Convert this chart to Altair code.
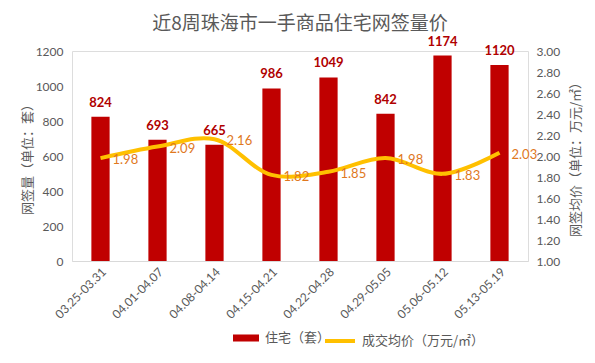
import altair as alt
import pandas as pd

weeks = ["03.25-03.31", "04.01-04.07", "04.08-04.14", "04.15-04.21",
         "04.22-04.28", "04.29-05.05", "05.06-05.12", "05.13-05.19"]
units = [824, 693, 665, 986, 1049, 842, 1174, 1120]
price = [1.98, 2.09, 2.16, 1.82, 1.85, 1.98, 1.83, 2.03]

bar_name = "住宅（套）"
line_name = "成交均价（万元/㎡）"

df = pd.DataFrame({
    "week": weeks,
    "units": units,
    "price": price,
    "s1": [bar_name] * len(weeks),
    "s2": [line_name] * len(weeks),
})

FONT = "Lato, Noto Sans CJK SC, sans-serif"
CJK = "Noto Sans CJK SC, sans-serif"
GRAY = "#595959"

x = alt.X("week:N", sort=weeks, title=None,
          scale=alt.Scale(paddingInner=0.68, paddingOuter=0.34),
          axis=alt.Axis(labelAngle=-45, labelFont=FONT, labelFontSize=12,
                        labelColor=GRAY, ticks=False, domainColor="#D9D9D9",
                        labelPadding=5))

y1 = alt.Y("units:Q", scale=alt.Scale(domain=[0, 1200]),
           axis=alt.Axis(values=[0, 200, 400, 600, 800, 1000, 1200], format="d", grid=False,
                         domain=False, ticks=False, labelFont=FONT, labelFontSize=12,
                         labelColor=GRAY, labelPadding=9,
                         title="网签量（单位：套）", titleFont=CJK, titleFontSize=13,
                         titleColor=GRAY, titleFontWeight="normal", titlePadding=1))

y2 = alt.Y("price:Q", scale=alt.Scale(domain=[1, 3]),
           axis=alt.Axis(orient="right",
                         values=[1.0, 1.2, 1.4, 1.6, 1.8, 2.0, 2.2, 2.4, 2.6, 2.8, 3.0],
                         format=".2f", grid=False, domain=False, ticks=False,
                         labelFont=FONT, labelFontSize=12, labelColor=GRAY, labelPadding=8,
                         title="网签均价（单位：万元/㎡）", titleFont=CJK, titleFontSize=13,
                         titleColor=GRAY, titleFontWeight="normal", titleAngle=270,
                         titleBaseline="top", titlePadding=10))

base = alt.Chart(df)

bars = base.mark_bar().encode(
    x=x, y=y1,
    color=alt.Color("s1:N", scale=alt.Scale(domain=[bar_name], range=["#C00000"]),
                    legend=alt.Legend(orient="none", legendX=160, legendY=273, title=None,
                                      symbolType="M-1,-0.27H1V0.27H-1Z", symbolSize=676,
                                      symbolOpacity=1, labelFont=CJK, labelFontSize=13,
                                      labelColor=GRAY, padding=0, labelOffset=5)))
bar_text = base.mark_text(dy=-14, font=FONT, fontSize=13, fontWeight="bold",
                          color="#B00000").encode(x=x, y=y1, text="units:Q")

line = base.mark_line(strokeWidth=4, interpolate="catmull-rom").encode(
    x=x, y=y2,
    stroke=alt.Stroke("s2:N", scale=alt.Scale(domain=[line_name], range=["#FFC000"]),
                      legend=alt.Legend(orient="none", legendX=251, legendY=273, title=None,
                                        symbolType="stroke", symbolSize=900,
                                        symbolStrokeWidth=4, labelFont=CJK,
                                        labelFontSize=13, labelColor=GRAY, padding=0,
                                        labelOffset=5)))
line_text = base.mark_text(align="left", dx=12, dy=2, font=FONT, fontSize=13,
                           color="#E0781E").encode(
    x=x, y=y2, text=alt.Text("price:Q", format=".2f"))

chart = alt.layer(
    alt.layer(bars, bar_text),
    alt.layer(line, line_text),
).resolve_scale(y="independent", color="independent").properties(
    width=456, height=210,
    title=alt.Title("近8周珠海市一手商品住宅网签量价", font=CJK, fontSize=19,
                    fontWeight="normal", color=GRAY, frame="group", offset=2),
    autosize=alt.AutoSizeParams(type="none"),
    padding={"left": 64, "top": 43, "right": 59, "bottom": 94},
).configure_view(stroke=None).configure(background="white")

chart.save("out.html", embed_options={"renderer": "svg", "actions": False})
